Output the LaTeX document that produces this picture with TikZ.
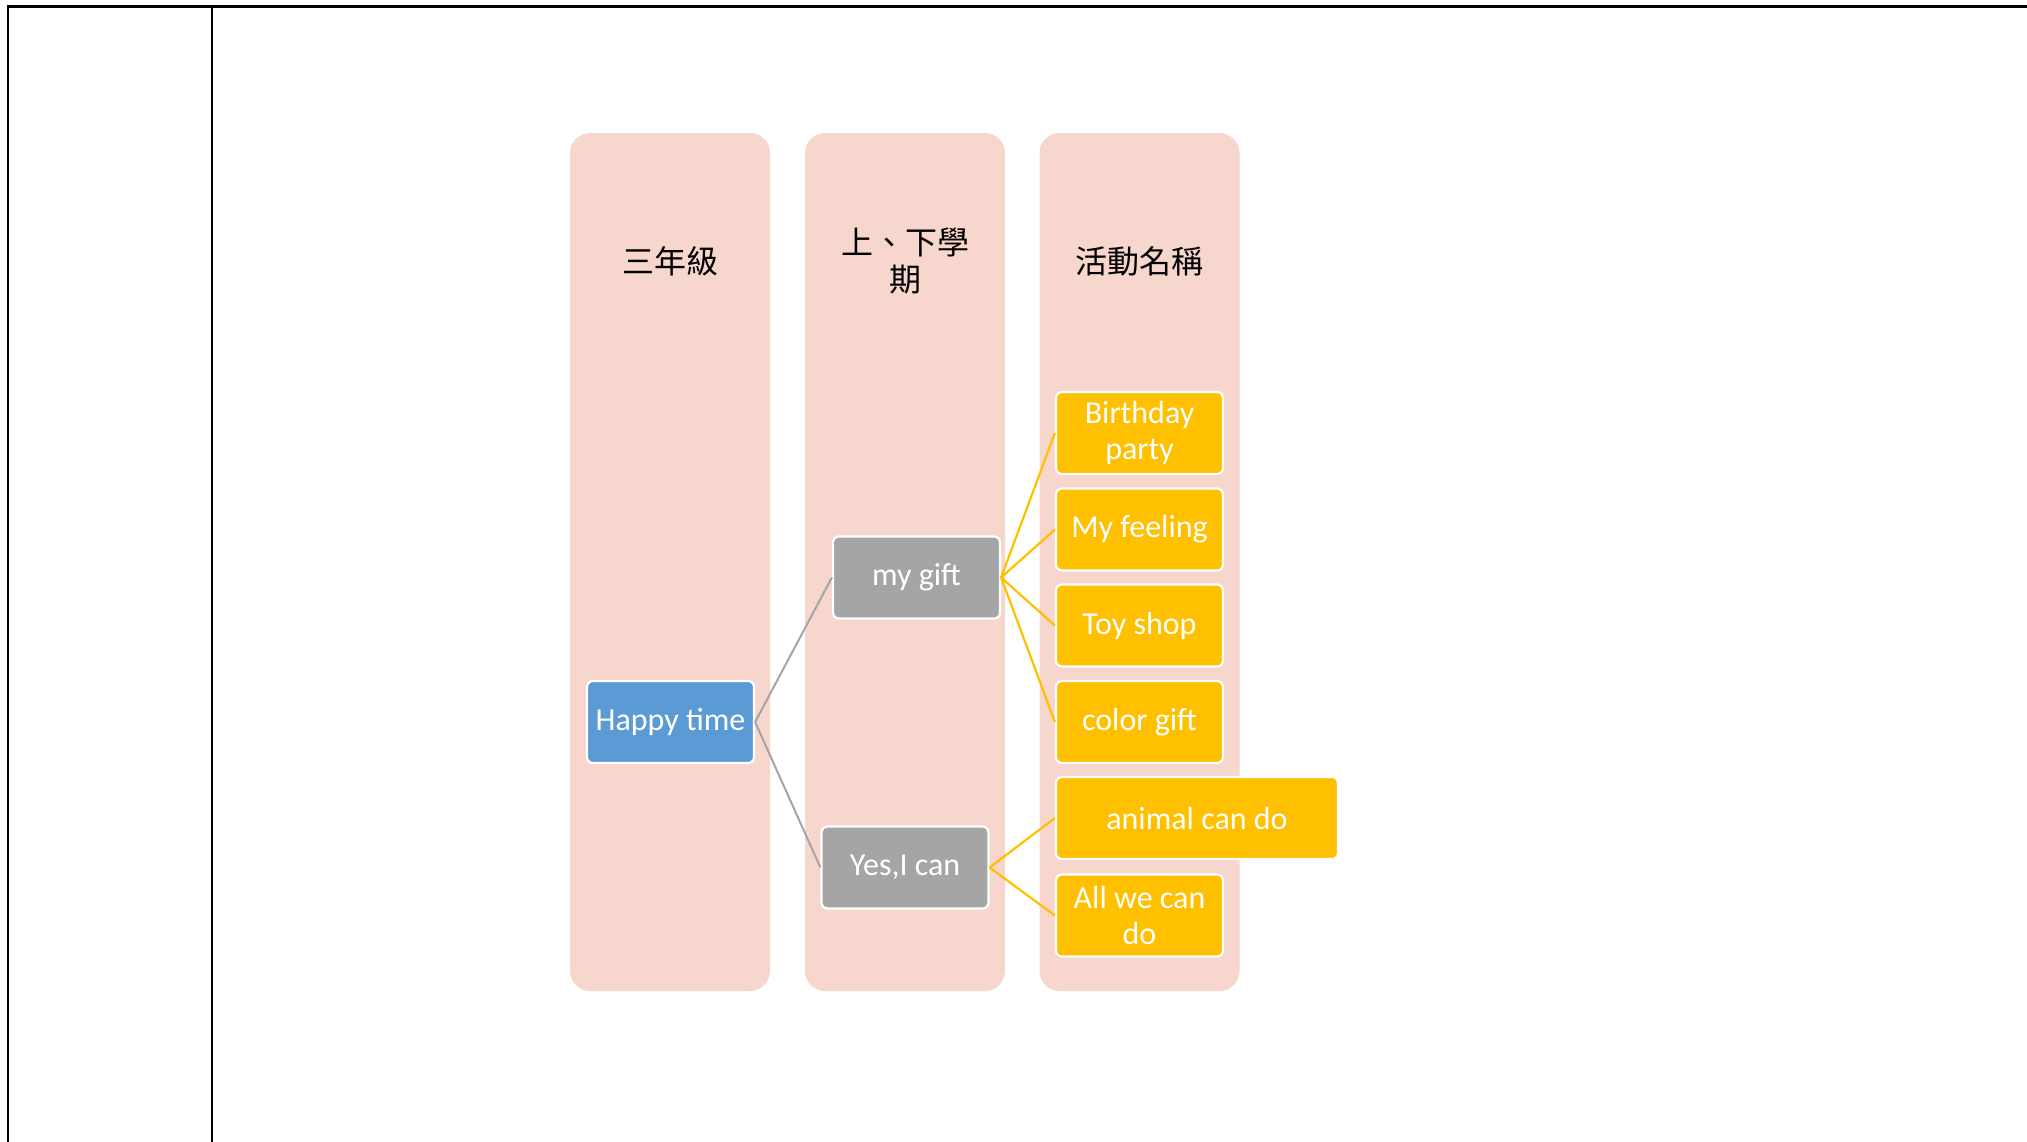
\documentclass[tikz,border=0pt]{standalone}
\usepackage{fontspec}
\setmainfont{Carlito}
\newfontfamily\cjk{Noto Sans CJK TC}
\definecolor{colfill}{HTML}{F7D7CD}
\definecolor{bluebox}{HTML}{5B9BD5}
\definecolor{graybox}{HTML}{A5A5A5}
\definecolor{yellowbox}{HTML}{FFC000}
\tikzset{
  frameline/.style={black, line width=2.6pt},
  colbox/.style={fill=colfill, rounded corners=20pt, minimum width=200pt, minimum height=858pt, inner sep=0pt, draw=none},
  header/.style={font=\cjk\fontsize{32}{37}\selectfont, align=center, text=black, inner sep=0pt},
  itembox/.style={draw=white, line width=2.2pt, rounded corners=6pt, text=white, align=center,
     font=\fontsize{32}{36}\selectfont, minimum width=167pt, minimum height=82pt, inner sep=0pt},
  bluenode/.style={itembox, fill=bluebox},
  graynode/.style={itembox, fill=graybox},
  yellownode/.style={itembox, fill=yellowbox},
  grayline/.style={draw=graybox, line width=2pt},
  yellowline/.style={draw=yellowbox, line width=2.2pt},
}
\begin{document}
\begin{tikzpicture}[x=1pt,y=-1pt]
\useasboundingbox (0,0) rectangle (2027,1141);
% frame
\coordinate (tl) at (7.8,6.5);
\coordinate (tr) at (2030,6.5);
\coordinate (bl) at (7.8,1145);
\coordinate (it) at (212,6.5);
\coordinate (ib) at (212,1145);
\draw[frameline] (bl) -- (tl) -- (tr);
\draw[frameline] (it) -- (ib);
% columns
\node[colbox] (col1) at (670,562) {};
\node[colbox] (col2) at (905,562) {};
\node[colbox] (col3) at (1139.5,562) {};
% headers
\node[header] (h1) at (670,261) {三年級};
\node[header] (h2) at (905,261) {上、下學\\期};
\node[header] (h3) at (1139.5,261) {活動名稱};
% nodes
\node[bluenode] (happy) at (670.5,722) {Happy time};
\node[graynode] (gift) at (916.5,577.5) {my gift};
\node[graynode] (yes) at (905,867.5) {Yes,I can};
\node[yellownode] (bday) at (1139.5,433) {Birthday\\party};
\node[yellownode] (feel) at (1139.5,529.5) {My feeling};
\node[yellownode] (toy) at (1139.5,625.5) {Toy shop};
\node[yellownode] (color) at (1139.5,722) {color gift};
\node[yellownode, minimum width=282pt] (animal) at (1197,818) {animal can do};
\node[yellownode] (allwe) at (1139.5,915.5) {All we can\\do};
% connectors
\draw[grayline] (happy.east) -- (gift.west);
\draw[grayline] (happy.east) -- (yes.west);
\draw[yellowline] (gift.east) -- (bday.west);
\draw[yellowline] (gift.east) -- (feel.west);
\draw[yellowline] (gift.east) -- (toy.west);
\draw[yellowline] (gift.east) -- (color.west);
\draw[yellowline] (yes.east) -- (animal.west);
\draw[yellowline] (yes.east) -- (allwe.west);
\end{tikzpicture}
\end{document}
